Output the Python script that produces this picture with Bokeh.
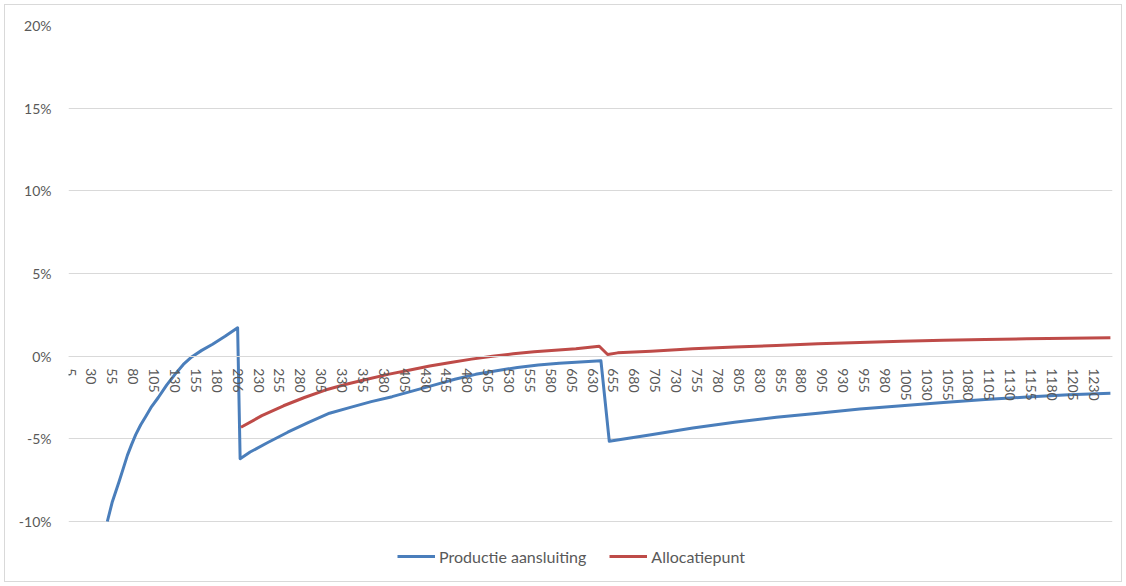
from bokeh.plotting import figure
from bokeh.models import Range1d, FixedTicker, PrintfTickFormatter, Legend, LegendItem
from bokeh.embed import file_html
from bokeh.resources import INLINE

# ---- data ----
days_prod = [49, 55, 63, 68, 73, 78, 83, 89, 95, 102, 110, 120, 130, 140, 150, 162, 175, 190, 205,
             208, 220, 240, 265, 290, 315, 340, 365, 390, 415, 440, 465, 490, 515,
             540, 565, 590, 615, 640,
             650, 700, 750, 800, 850, 900, 950, 1000, 1050, 1100, 1150, 1200, 1250]
prod = [-10.0, -8.8, -7.6, -6.8, -6.0, -5.35, -4.75, -4.15, -3.65, -3.05, -2.5, -1.75, -1.1, -0.5, -0.05, 0.35, 0.72, 1.2, 1.72,
        -6.2, -5.8, -5.25, -4.6, -4.0, -3.45, -3.1, -2.75, -2.45, -2.1, -1.75, -1.4, -1.1, -0.88,
        -0.68, -0.54, -0.43, -0.35, -0.28,
        -5.15, -4.75, -4.35, -4.0, -3.7, -3.45, -3.2, -3.0, -2.8, -2.62, -2.47, -2.34, -2.25]

days_alloc = [209, 234, 260, 285, 310, 335, 360, 385, 410, 435, 460, 485, 510, 535, 560, 585, 610, 638,
              648, 660, 700, 750, 800, 850, 900, 950, 1000, 1050, 1100, 1150, 1200, 1250]
alloc = [-4.3, -3.6, -3.0, -2.5, -2.05, -1.7, -1.4, -1.1, -0.85, -0.6, -0.38, -0.18, 0.0, 0.14, 0.26, 0.36, 0.45, 0.6,
         0.1, 0.2, 0.3, 0.45, 0.55, 0.65, 0.75, 0.83, 0.9, 0.96, 1.01, 1.05, 1.09, 1.12]

x_tick_pos = [5, 30, 55, 80, 105, 130, 155, 180, 205, 230, 255, 280, 305, 330, 355, 380, 405, 430,
              455, 480, 505, 530, 555, 580, 605, 630, 655, 680, 705, 730, 755, 780, 805, 830, 855,
              880, 905, 930, 955, 980, 1005, 1030, 1055, 1080, 1105, 1130, 1155, 1180, 1205, 1230]
x_tick_labels = ["5", "30", "55", "80", "105", "130", "155", "180", "206", "230", "255", "280", "305",
                 "330", "355", "380", "405", "430", "455", "480", "505", "530", "555", "580", "605",
                 "630", "655", "680", "705", "730", "755", "780", "805", "830", "855", "880", "905",
                 "930", "955", "980", "1005", "1030", "1055", "1080", "1105", "1130", "1155", "1180",
                 "1205", "1230"]
y_ticks = [-10, -5, 0, 5, 10, 15, 20]

series_names = ["Productie aansluiting", "Allocatiepunt"]
BLUE = "#4A7EBB"
RED = "#BE4B48"
GRID = "#D9D9D9"
TXT = "#595959"
FONT = "Lato"

# frame: 20% at y=25, -10% at y=521 (16.533 px per %); frame extends to y=580 to host the legend
p = figure(width=1118, height=578, margin=(4, 4, 4, 4),
           styles={"border": "1px solid #D9D9D9"},
           x_range=Range1d(2.5, 1252.5), y_range=Range1d(-13.569, 20),
           output_backend="svg", toolbar_location=None,
           min_border_left=63, min_border_right=11, min_border_top=20, min_border_bottom=3)
p.outline_line_color = None
p.background_fill_color = "white"
p.border_fill_color = "white"

r1 = p.line(days_prod, prod, line_color=BLUE, line_width=3, line_join="round")
r2 = p.line(days_alloc, alloc, line_color=RED, line_width=3, line_join="round")

# y axis
p.yaxis.ticker = FixedTicker(ticks=y_ticks)
p.yaxis.formatter = PrintfTickFormatter(format="%d%%")
p.yaxis.axis_line_color = None
p.yaxis.major_tick_line_color = None
p.yaxis.minor_tick_line_color = None
p.yaxis.major_label_text_color = TXT
p.yaxis.major_label_text_font = FONT
p.yaxis.major_label_text_font_size = "14px"
p.yaxis.major_label_standoff = 11

# x axis at y = 0
p.xaxis.fixed_location = 0
p.xaxis.ticker = FixedTicker(ticks=x_tick_pos)
p.xaxis.major_label_overrides = {pos: lab for pos, lab in zip(x_tick_pos, x_tick_labels)}
p.xaxis.major_label_orientation = "vertical"
p.xaxis.axis_line_color = GRID
p.xaxis.major_tick_line_color = None
p.xaxis.minor_tick_line_color = None
p.xaxis.major_label_text_color = TXT
p.xaxis.major_label_text_font = FONT
p.xaxis.major_label_text_font_size = "14px"
p.xaxis.major_label_standoff = 6

p.xgrid.grid_line_color = None
p.ygrid.ticker = FixedTicker(ticks=y_ticks)
p.ygrid.grid_line_color = GRID
p.ygrid.grid_line_width = 1

legend = Legend(items=[LegendItem(label=series_names[0], renderers=[r1]),
                       LegendItem(label=series_names[1], renderers=[r2])],
                location=(329, 14), orientation="horizontal",
                glyph_width=38, glyph_height=20, label_standoff=4, spacing=23,
                padding=0, margin=0, border_line_color=None, background_fill_alpha=0,
                label_text_font=FONT, label_text_font_size="16px", label_text_color=TXT)
p.add_layout(legend, "center")

open("out.html", "w").write(file_html(p, INLINE))
